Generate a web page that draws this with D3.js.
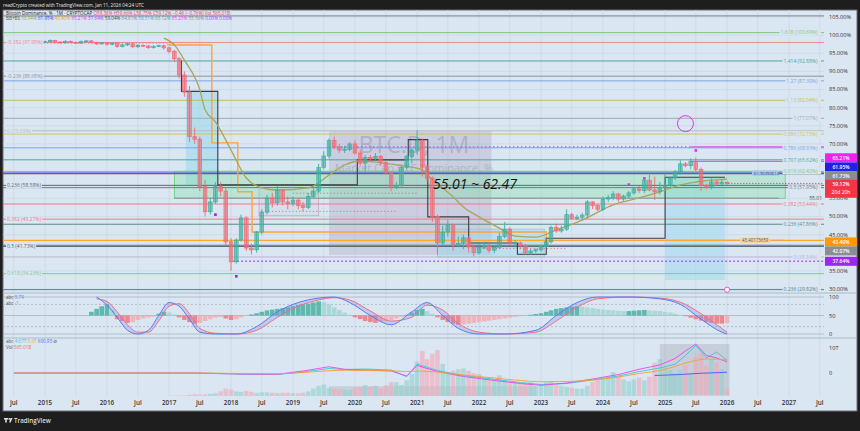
<!DOCTYPE html>
<meta charset="utf-8">
<style>
body { margin: 0; background: #1e1e1e; }
text { font-family: "Open Sans", Roboto, sans-serif; }
</style>
<body>
<script src="https://d3js.org/d3.v7.min.js"></script>
<script>

// ---- data ----
var months = d3.timeMonth.range(new Date(2014, 6, 1), new Date(2026, 1, 1));

var opens = [98.3, 98.2, 98.0, 98.4, 98.1, 98.3,
  98.0, 98.2, 98.5, 98.1, 97.9, 98.3, 98.0, 97.8, 98.2, 98.4, 98.0, 97.6,
  97.9, 97.5, 97.8, 96.9, 97.3, 97.6, 96.8, 97.2, 97.0, 96.6, 96.9, 97.1,
  96.5, 95.5, 93.5, 89.0, 84.3, 72.0, 71.3, 58.2, 51.3, 54.0, 58.2, 57.0,
  43.0, 37.5, 43.5, 49.6, 41.3, 40.8, 45.7, 51.2, 55.1, 53.8, 57.3, 54.0,
  53.5, 54.5, 53.0, 52.5, 55.5, 57.0, 63.5, 66.7, 71.0, 69.2, 68.3, 68.5,
  70.0, 67.5, 64.7, 66.3, 66.0, 66.6, 64.8, 62.0, 58.1, 58.5, 63.5, 66.5,
  68.3, 71.0, 63.6, 60.6, 50.0, 42.7, 45.7, 47.7, 42.1, 42.6, 44.1, 41.6,
  40.0, 41.5, 42.0, 40.7, 41.5, 44.5, 46.5, 42.5, 42.7, 42.0, 40.0, 40.5,
  40.8, 41.7, 43.0, 47.0, 46.0, 46.5, 50.5, 49.5, 49.8, 50.4, 54.0, 53.0,
  52.0, 54.8, 55.2, 56.2, 54.8, 55.6, 56.5, 57.6, 57.2, 60.0, 57.3, 56.8,
  58.0, 58.6, 60.6, 62.3, 64.5, 64.0, 65.2, 63.0, 58.5, 58.0, 59.5, 59.0,
  59.4];
var closes = [98.2, 98.0, 98.4, 98.1, 98.3, 98.0,
  98.2, 98.5, 98.1, 97.9, 98.3, 98.0, 97.8, 98.2, 98.4, 98.0, 97.6, 97.9,
  97.5, 97.8, 96.9, 97.3, 97.6, 96.8, 97.2, 97.0, 96.6, 96.9, 97.1, 96.5,
  95.5, 93.5, 89.0, 84.3, 72.0, 71.3, 58.2, 51.3, 54.0, 58.2, 57.0, 43.0,
  37.5, 43.5, 49.6, 41.3, 40.8, 45.7, 51.2, 55.1, 53.8, 57.3, 54.0, 53.5,
  54.5, 53.0, 52.5, 55.5, 57.0, 63.5, 66.7, 71.0, 69.2, 68.3, 68.5, 70.0,
  67.5, 64.7, 66.3, 66.0, 66.6, 64.8, 62.0, 58.1, 58.5, 63.5, 66.5, 68.3,
  71.0, 63.6, 60.6, 50.0, 42.7, 45.7, 47.7, 42.1, 42.6, 44.1, 41.6, 40.0,
  41.5, 42.0, 40.7, 41.5, 44.5, 46.5, 42.5, 42.7, 42.0, 40.0, 40.5, 40.8,
  41.7, 43.0, 47.0, 46.0, 46.5, 50.5, 49.5, 49.8, 50.4, 54.0, 53.0, 52.0,
  54.8, 55.2, 56.2, 54.8, 55.6, 56.5, 57.6, 57.2, 60.0, 57.3, 56.8, 58.0,
  58.6, 60.6, 62.3, 64.5, 64.0, 65.2, 63.0, 58.5, 58.0, 59.5, 59.0, 59.4,
  59.12];
var highs = [98.6, 98.5, 98.7, 98.6, 98.6, 98.5,
  98.5, 98.8, 98.7, 98.3, 98.6, 98.5, 98.2, 98.5, 98.7, 98.6, 98.2, 98.1,
  98.1, 98.0, 98.0, 97.6, 97.9, 97.8, 97.5, 97.4, 97.3, 97.2, 97.4, 97.3,
  96.8, 96.0, 94.0, 90.0, 86.0, 74.5, 72.0, 60.0, 55.0, 59.5, 59.5, 58.0,
  44.0, 44.0, 50.5, 50.0, 42.5, 46.0, 52.0, 56.0, 56.5, 58.5, 57.5, 55.5,
  55.5, 55.0, 54.0, 56.5, 58.5, 64.5, 68.0, 71.5, 72.0, 70.0, 69.5, 70.5,
  71.0, 68.5, 67.0, 67.0, 67.5, 67.0, 65.5, 62.5, 59.5, 64.0, 67.0, 69.0,
  73.8, 71.5, 64.0, 61.0, 50.5, 47.5, 49.0, 48.0, 44.5, 45.0, 44.5, 42.0,
  42.5, 43.0, 43.0, 42.0, 45.5, 48.5, 47.0, 43.5, 43.0, 42.5, 41.0, 41.2,
  42.2, 44.0, 47.5, 48.0, 47.5, 52.0, 51.0, 50.5, 51.0, 54.5, 54.2, 53.5,
  55.5, 56.0, 57.0, 56.5, 56.0, 57.0, 58.0, 58.5, 60.5, 61.5, 61.0, 59.5,
  61.8, 61.0, 62.8, 65.5, 65.0, 66.0, 66.2, 63.5, 59.0, 60.5, 60.0, 60.2,
  59.7];
var lows = [97.9, 97.8, 97.8, 97.8, 98.0, 97.8,
  97.8, 98.0, 97.8, 97.6, 97.7, 97.8, 97.5, 97.6, 98.0, 97.7, 97.3, 97.4,
  97.1, 97.2, 96.5, 96.6, 97.0, 96.4, 96.5, 96.7, 96.2, 96.3, 96.7, 96.0,
  95.0, 92.5, 88.0, 83.0, 70.5, 70.0, 57.0, 50.0, 50.5, 53.5, 55.5, 42.0,
  35.0, 37.0, 43.0, 40.5, 39.5, 40.0, 45.0, 50.5, 52.5, 53.0, 53.0, 52.0,
  52.8, 52.0, 51.5, 52.0, 55.0, 56.5, 63.0, 66.0, 68.5, 67.5, 67.5, 68.0,
  67.0, 64.0, 62.0, 65.0, 65.5, 64.0, 61.5, 57.0, 57.5, 58.0, 63.0, 64.5,
  67.0, 61.0, 59.5, 48.5, 39.5, 42.0, 44.5, 40.5, 41.5, 41.0, 40.0, 39.0,
  39.5, 41.0, 40.0, 39.8, 41.0, 44.0, 42.0, 41.5, 41.0, 39.5, 39.5, 40.0,
  40.2, 41.2, 42.5, 45.5, 45.5, 46.0, 49.0, 49.0, 49.0, 49.5, 52.0, 51.5,
  51.5, 54.0, 54.5, 54.0, 54.2, 55.0, 56.0, 56.5, 56.5, 57.0, 54.5, 56.0,
  57.0, 58.0, 60.0, 61.5, 63.5, 63.0, 62.5, 57.0, 57.5, 57.5, 58.5, 58.3,
  58.75];

// monthly volume (T), same months as candles
var volumes = [0, 0, 0, 0, 0, 0,
  0, 0, 0, 0, 0, 0, 0, 0, 0, 0, 0, 0,
  0, 0, 0, 0, 0, 0, 0, 0, 0, 0, 0, 0,
  0.05, 0.05, 0.1, 0.15, 0.3, 0.4, 0.3, 0.4, 0.5, 0.6, 1.0, 1.6,
  1.4, 1.0, 0.9, 1.1, 0.9, 0.7, 0.8, 0.8, 0.7, 0.6, 0.7, 0.7,
  0.6, 0.6, 0.7, 1.0, 1.6, 2.2, 2.5, 1.8, 1.6, 1.5, 1.4, 1.3,
  1.8, 2.0, 2.4, 2.0, 2.2, 1.8, 2.3, 3.0, 3.0, 2.4, 3.4, 4.8,
  7.5, 9.8, 8.0, 9.2, 10.0, 7.0, 5.0, 5.5, 5.8, 6.0, 5.5, 5.0,
  4.8, 4.0, 3.8, 3.6, 4.5, 3.5, 3.0, 3.0, 2.6, 2.7, 3.0, 2.2,
  2.4, 3.0, 3.2, 2.4, 2.2, 2.0, 1.8, 1.6, 1.6, 2.2, 3.0, 3.6,
  3.8, 4.2, 5.2, 4.4, 3.6, 3.2, 3.6, 4.0, 3.4, 4.2, 7.2, 8.0,
  6.2, 5.6, 5.0, 5.6, 6.8, 5.0, 8.5, 9.3, 6.6, 8.0, 7.2, 5.8,
  1.6];

// moving average line
var maDates = ["2016-12", "2017-02", "2017-04", "2017-07", "2017-08", "2017-10", "2018-01", "2018-04", "2018-07", "2018-10",
  "2019-04", "2019-08", "2019-11", "2020-02", "2020-05", "2020-09", "2020-12", "2021-02", "2021-04", "2021-08",
  "2021-10", "2022-01", "2022-05", "2022-08", "2022-12", "2023-04", "2023-09", "2024-03", "2024-08", "2024-12",
  "2025-04", "2025-07", "2026-01"];
var maValues = [99.2, 97.3, 93.1, 84.9, 79.4, 76.1, 68.3, 60.6, 57.9, 57.3,
  57.9, 61.4, 64.2, 65.3, 65.0, 64.2, 63.6, 62.8, 60.1, 55.4,
  52.6, 49.9, 46.8, 44.6, 44.3, 46.3, 49.0, 53.2, 55.1, 56.8,
  58.7, 59.5, 60.3];

// step lines
var blackStepDates = ["2017-03-15", "2017-03-15", "2017-10-15", "2020-01-15", "2020-11-10", "2021-03-05", "2021-11-01", "2022-08-15", "2023-02-01", "2025-01-01", "2025-12-20"];
var blackStepValues = [93.0, 84.5, 58.7, 65.6, 71.2, 49.9, 42.7, 39.6, 44.0, 60.8, 60.8];
var orangeStepDates = ["2016-12-20", "2017-09-10", "2018-02-10", "2018-05-05", "2023-02-01", "2026-12-01"];
var orangeStepValues = [97.3, 70.3, 56.8, 45.7, 43.4, 43.4];

// fib levels
var fibRightValues = [100.69, 92.88, 87.39, 82.04, 77.07, 72.73, 68.93, 65.62, 62.42, 57.95, 53.44, 47.86, 38.84, 29.82];
var fibRightLabels = ["1.618 (100.69%)", "1.414 (92.88%)", "1.27 (87.39%)", "1.13 (82.04%)", "1 (77.07%)", "0.886 (72.73%)",
  "0.786 (68.93%)", "0.707 (65.62%)", "0.618 (62.42%)", "0.5 (57.95%)", "0.382 (53.44%)", "0.236 (47.86%)", "0 (38.84%)", "0.236 (29.82%)"];
var fibLeftValues = [97.98, 88.68, 73.63, 58.58, 49.27, 41.73, 34.23];
var fibLeftLabels = ["-0.382 (97.98%)", "-0.236 (88.68%)", "0 (73.63%)", "0.236 (58.58%)", "0.382 (49.27%)", "0.5 (41.73%)", "0.618 (34.23%)"];

var priceTicks = [105, 100, 95, 90, 85, 80, 75, 70, 55, 50, 45, 35, 30];
var tagValues = [65.21, 61.95, 61.73, 59.12, 43.40, 42.07, 37.64];
var tagLabels = ["65.21%", "61.95%", "61.73%", "59.12%", "43.40%", "42.07%", "37.64%"];
var rangeLow = 55.01, rangeHigh = 62.47;

// oscillator pane
var oscDates = ["2015-11", "2016-01", "2016-03", "2016-05", "2016-07", "2016-09", "2016-11", "2017-01", "2017-03", "2017-05",
  "2017-07", "2017-10", "2018-02", "2018-06", "2018-10", "2019-02", "2019-06", "2019-09", "2019-12", "2020-04",
  "2020-08", "2020-12", "2021-03", "2021-06", "2021-09", "2022-01", "2022-06", "2022-12", "2023-04", "2023-08",
  "2023-12", "2024-06", "2024-12", "2025-04", "2025-08", "2025-12", "2026-01"];
var oscK = [100, 78, 45, 10, 0, 10, 50, 85, 75, 40, 5, 0, 0, 20, 60, 85, 97, 100, 85, 50,
  25, 60, 85, 50, 15, 0, 0, 10, 50, 85, 100, 100, 95, 80, 40, 5, 0];
var oscD = [95, 88, 60, 25, 5, 5, 35, 75, 82, 55, 15, 2, 0, 10, 45, 75, 92, 98, 92, 62,
  35, 45, 78, 65, 28, 5, 0, 5, 35, 72, 95, 100, 97, 86, 55, 15, 5];
var histStart = new Date(2015, 9, 1);
var histValues = [10, 18, 25, 30, 15,
  -10, -15, -20, -18, -12, -8, -5, -3, 5, 10, 8, 3,
  -5, -12, -18, -22, -20, -15, -10, -6, -4, -8,
  -12, -10, -5, 0, 3, 6, 10, 14, 16, 18, 20, 22,
  25, 28, 30, 32, 35, 38, 36, 30, 22, 15, 8, 2,
  -5, -10, -15, -18, -20, -18, -15, -12, -8, -4, 2, 8,
  15, 18, 12, 5, -5, -12, -18, -22, -25, -24, -22, -20,
  -18, -16, -14, -12, -10, -8, -6, -4, -2, 0, 2, 4,
  6, 10, 14, 18, 20, 22, 24, 25, 24, 22, 20, 18,
  16, 15, 14, 13, 12, 12, 13, 14, 15, 14, 13, 12,
  10, 8, 5, 2, -2, -6, -10, -14, -18, -20, -22, -22, -20];

// volume pane lines (T)
var vlDates = ["2014-07", "2017-06", "2018-03", "2018-10", "2019-03", "2019-08", "2019-11", "2020-03", "2020-08", "2020-11",
  "2021-01", "2021-05", "2021-10", "2022-04", "2022-09", "2023-01", "2023-06", "2023-11", "2024-04", "2024-08",
  "2024-12", "2025-03", "2025-05", "2025-07", "2025-09", "2025-11", "2026-01"];
var vlCyan = [0, 0, -0.5, -0.6, 0.4, 1.8, 1.4, 1.6, 1.2, -1.5,
  3.6, 1.0, -1.0, -2.5, -3.8, -4.6, -4.2, -2.8, -1.2, 0.6,
  2.0, 3.5, 7.0, 11.0, 6.0, 8.4, 5.0];
var vlMagenta = [0, 0, -0.4, -0.5, 0.8, 2.5, 1.5, 1.2, 0.8, -1.2,
  3.0, 0.6, -1.4, -3.0, -4.2, -4.9, -4.0, -2.4, -0.6, 1.5,
  3.2, 5.8, 8.8, 11.6, 7.0, 6.0, 4.5];
var vlOrange = [0, 0, -0.2, -0.3, 0.2, 0.9, 1.1, 1.0, 0.9, 0.6,
  0.8, 0.4, -0.8, -2.0, -3.0, -3.5, -3.4, -2.8, -1.6, -0.2,
  1.0, 2.6, 4.0, 5.0, 5.6, 5.5, 5.2];
var vlBlueDates = ["2024-11", "2025-04", "2025-08", "2026-01"];
var vlBlue = [-1.0, -0.6, -0.1, 0.3];

// ---- layout ----
var W = 860, H = 431;
var plotL = 3, plotR = 824, frameR = 857, frameTop = 10, frameBottom = 411;
var mainTop = 10, mainBottom = 293, oscBottom = 338, volBottom = 396;
var bg = "#dbe6f3";
var parse = d3.timeParse("%Y-%m"), parseD = d3.timeParse("%Y-%m-%d");

var x = d3.scaleTime().domain([new Date(2015, 0, 1), new Date(2027, 0, 1)]).range([45, 789]);
var y = d3.scaleLinear().domain([30, 105]).range([289, 17]);
var yOsc = d3.scaleLinear().domain([0, 100]).range([334, 297]);
var yVl = d3.scaleLinear().domain([0, 10]).range([373, 348]);
var yVb = d3.scaleLinear().domain([0, 10]).range([396, 350]);

var svg = d3.select("body").append("svg").attr("width", W).attr("height", H);
svg.append("rect").attr("width", W).attr("height", H).attr("fill", "#1e1e1e");
svg.append("rect").attr("x", plotL).attr("y", frameTop).attr("width", frameR - plotL).attr("height", frameBottom - frameTop)
    .attr("fill", bg).attr("stroke", "#6a6f78");

svg.append("text").attr("x", 3).attr("y", 6.5).attr("fill", "#e8e8e8").attr("font-size", 4.6)
    .text("readCrypto created with TradingView.com, Jan 11, 2026 04:24 UTC");

var defs = svg.append("defs");
defs.append("clipPath").attr("id", "clipMain").append("rect")
    .attr("x", plotL).attr("y", mainTop).attr("width", plotR - plotL).attr("height", mainBottom - mainTop);
defs.append("clipPath").attr("id", "clipLow").append("rect")
    .attr("x", plotL).attr("y", mainBottom).attr("width", plotR - plotL).attr("height", volBottom - mainBottom);

// grid
var timeTicks = d3.timeMonth.every(6).range(new Date(2014, 6, 1), new Date(2027, 7, 1));
svg.append("g").selectAll("line").data(timeTicks).join("line")
    .attr("x1", d => x(d)).attr("x2", d => x(d)).attr("y1", frameTop).attr("y2", volBottom)
    .attr("stroke", "#cbd8e6").attr("stroke-width", 0.8);
svg.append("g").selectAll("line").data(priceTicks).join("line")
    .attr("x1", plotL).attr("x2", plotR).attr("y1", d => y(d)).attr("y2", d => y(d))
    .attr("stroke", "#cbd8e6").attr("stroke-width", 0.8);

// pane separators
[mainBottom, oscBottom].forEach(function (v) {
  svg.append("line").attr("x1", plotL).attr("x2", frameR).attr("y1", v).attr("y2", v)
      .attr("stroke", "#aab8c8").attr("stroke-width", 1.2);
});

var main = svg.append("g").attr("clip-path", "url(#clipMain)");

// watermark
main.append("text").attr("x", 414).attr("y", 153).attr("text-anchor", "middle")
    .attr("font-size", 23).attr("fill", "#8e8ea6").attr("opacity", 0.45).text("BTC.D, 1M");
main.append("text").attr("x", 414).attr("y", 172).attr("text-anchor", "middle")
    .attr("font-size", 11).attr("fill", "#8e8ea6").attr("opacity", 0.45).text("Market Cap BTC Dominance, %");

// boxes
function box(g, d0, d1, v0, v1, fill, op, stroke) {
  g.append("rect").attr("x", x(d0)).attr("width", x(d1) - x(d0))
      .attr("y", y(v0)).attr("height", y(v1) - y(v0))
      .attr("fill", fill).attr("fill-opacity", op)
      .attr("stroke", stroke || "none").attr("stroke-width", 0.8);
}
box(main, parseD("2019-08-01"), parseD("2022-03-15"), 73.5, 39.4, "#9e8fb0", 0.28);
box(main, parseD("2017-04-10"), parseD("2017-10-15"), 84.5, 58.7, "#9fd8ec", 0.6);
box(main, parseD("2021-05-01"), parseD("2023-01-20"), 46.5, 38.8, "#9fd8ec", 0.5, "#8ecbe0");
box(main, parseD("2025-01-01"), parseD("2025-12-20"), 60.8, 32.5, "#9fd8ec", 0.55);
box(main, parseD("2018-06-15"), parseD("2019-06-01"), 58.7, 50.2, "#c9b3d6", 0.15, "#c8a4c8");
box(main, parseD("2017-02-01"), parseD("2026-12-10"), rangeHigh, rangeLow, "#7fe0a0", 0.35, "#55dd66");

// horizontal levels
var fibRightColors = ["#7cc97a", "#4aa69c", "#7aa3e6", "#c4bf5a", "#a7a7a7", "#cfc35a",
  "#7aa3e6", "#4aa69c", "#7cc97a", "#777a80", "#ef7b84", "#5a8a8a", "#b9bcc2", "#5a7f86"];
var fibLeftColors = ["#ef8a90", "#8d949c", "#b9bcc2", "#5f6670", "#ef7b84", "#5f6670", "#86c986"];

main.append("g").selectAll("line").data(fibRightValues.concat(fibLeftValues)).join("line")
    .attr("x1", plotL).attr("x2", plotR).attr("y1", d => y(d)).attr("y2", d => y(d))
    .attr("stroke", (d, i) => i < fibRightValues.length ? fibRightColors[i] : fibLeftColors[i - fibRightValues.length])
    .attr("stroke-width", 1);

function hline(v, color, w, dash, x0, x1) {
  main.append("line").attr("x1", x0 == null ? plotL : x(x0)).attr("x2", x1 == null ? plotR : x(x1))
      .attr("y1", y(v)).attr("y2", y(v)).attr("stroke", color).attr("stroke-width", w)
      .attr("stroke-dasharray", dash || null);
}
hline(105.3, "#7b8088", 1);
hline(tagValues[5], "#6d7178", 1.2);
hline(tagValues[4], "#ffa726", 1.2);
hline(tagValues[2], "#8d9198", 1);
hline(tagValues[1], "#3a3ae8", 1.4);
hline(tagValues[0], "#e040e8", 1, null, parseD("2025-06-01"), null);
hline(69.2, "#e040e8", 1, null, parseD("2025-06-01"), null);
hline(69.2, "#e040e8", 1.4, "1.4,2.6", parseD("2019-08-01"), parseD("2025-06-01"));
hline(tagValues[6], "#a23cf0", 1.4, "1.4,2.6", parseD("2018-01-15"), null);
hline(rangeLow, "#9aa0a6", 1.6, null, parseD("2017-02-01"), parseD("2026-11-01"));
hline(tagValues[3], "#f23645", 0.8, "1.5,1.5", parseD("2025-12-20"), null);
hline(97.8, "#ef6f78", 1, "1.2,2.2", null, parseD("2017-02-01"));
hline(51.4, "#ef6f78", 1, "1.2,2.2", parseD("2018-07-01"), parseD("2020-09-01"));
hline(41.2, "#ef6f78", 1, "1.2,2.2", parseD("2022-01-01"), parseD("2023-06-01"));
hline(56.4, "#8d9198", 1, "1.2,2.2", parseD("2019-01-01"), parseD("2021-01-01"));

// step lines and average
var stepLine = d3.line().x(d => x(d[0])).y(d => y(d[1])).curve(d3.curveStepAfter);
main.append("path")
    .datum(orangeStepDates.map((d, i) => [parseD(d), orangeStepValues[i]]))
    .attr("d", stepLine).attr("fill", "none").attr("stroke", "#ffa33a").attr("stroke-width", 1.4);
main.append("path")
    .datum(blackStepDates.map((d, i) => [parseD(d), blackStepValues[i]]))
    .attr("d", stepLine).attr("fill", "none").attr("stroke", "#3a3d44").attr("stroke-width", 1.1);
main.append("path")
    .datum(maDates.map((d, i) => [parse(d), maValues[i]]))
    .attr("d", d3.line().x(d => x(d[0])).y(d => y(d[1])).curve(d3.curveMonotoneX))
    .attr("fill", "none").attr("stroke", "#a9a55a").attr("stroke-width", 1.3);

// candles
var up = "#3fae9f", down = "#ee6a74";
var candles = main.append("g").selectAll("g").data(months).join("g");
candles.append("line")
    .attr("x1", d => x(d)).attr("x2", d => x(d))
    .attr("y1", (d, i) => y(highs[i])).attr("y2", (d, i) => y(lows[i]))
    .attr("stroke", (d, i) => closes[i] >= opens[i] ? up : down).attr("stroke-width", 0.9);
candles.append("rect")
    .attr("x", d => x(d) - 1.8).attr("width", 3.6)
    .attr("y", (d, i) => y(Math.max(opens[i], closes[i])))
    .attr("height", (d, i) => Math.max(0.8, Math.abs(y(opens[i]) - y(closes[i]))))
    .attr("fill", (d, i) => closes[i] >= opens[i] ? up : down).attr("fill-opacity", 0.55)
    .attr("stroke", (d, i) => closes[i] >= opens[i] ? up : down).attr("stroke-width", 0.7);

// markers
main.append("rect").attr("x", x(parseD("2017-10-01")) - 1.3).attr("y", y(50.5) - 1.3).attr("width", 2.6).attr("height", 2.6).attr("fill", "#9a22e6");
main.append("rect").attr("x", x(parseD("2018-02-01")) - 1.3).attr("y", y(33.5) - 1.3).attr("width", 2.6).attr("height", 2.6).attr("fill", "#9a22e6");
[["2024-09-01", 60.5], ["2024-06-01", 58.8], ["2025-07-01", 68.2]].forEach(function (p) {
  main.append("rect").attr("x", x(parseD(p[0])) - 1.3).attr("y", y(p[1]) - 1.3).attr("width", 2.6).attr("height", 2.6).attr("fill", "#e62ee6");
});
main.append("circle").attr("cx", x(parseD("2025-05-01"))).attr("cy", y(75.6)).attr("r", 8)
    .attr("fill", "none").attr("stroke", "#e62ee6").attr("stroke-width", 1);
main.append("circle").attr("cx", x(parseD("2026-01-01"))).attr("cy", y(29.8)).attr("r", 2.6)
    .attr("fill", "#fff").attr("stroke", "#e62ee6").attr("stroke-width", 0.8);

// range text
main.append("text").attr("x", 433).attr("y", 189).attr("font-size", 14).attr("font-style", "italic")
    .attr("fill", "#111").text(rangeLow.toFixed(2) + " ~ " + rangeHigh.toFixed(2));
main.append("text").attr("x", 822).attr("y", y(rangeLow) + 1.8).attr("text-anchor", "end")
    .attr("font-size", 5).attr("fill", "#555").text(rangeLow.toFixed(2));

// level labels
function labelWithBg(g, tx, ty, str, color, anchor) {
  var t = g.append("text").attr("x", tx).attr("y", ty + 1.8).attr("font-size", 5)
      .attr("fill", color).attr("text-anchor", anchor).text(str);
  var w = t.node().getComputedTextLength();
  g.insert("rect", function () { return t.node(); })
      .attr("x", anchor === "end" ? tx - w - 1 : tx - 1).attr("y", ty - 2.6).attr("width", w + 2).attr("height", 5.2)
      .attr("fill", bg);
}
var lbl = main.append("g");
fibRightValues.forEach((v, i) => labelWithBg(lbl, 820, y(v), fibRightLabels[i] + " ·", fibRightColors[i], "end"));
fibLeftValues.forEach((v, i) => labelWithBg(lbl, 7, y(v), fibLeftLabels[i], fibLeftColors[i], "start"));

// small drawing labels
main.append("rect").attr("x", 752).attr("y", y(61.95) - 2.6).attr("width", 27).attr("height", 5.2).attr("rx", 1.5).attr("fill", "#a9c4f0");
main.append("text").attr("x", 754).attr("y", y(61.95) + 1.6).attr("font-size", 4.2).attr("fill", "#345").text("61.95390614");
main.append("rect").attr("x", 740).attr("y", y(43.4) - 2.8).attr("width", 30).attr("height", 5.6).attr("rx", 1.5).attr("fill", "#f3d4a4");
main.append("text").attr("x", 742).attr("y", y(43.4) + 1.8).attr("font-size", 4.4).attr("fill", "#654").text("43.40173659");

// legend
svg.append("text").attr("x", 6).attr("y", 14.5).attr("font-size", 4.6).attr("fill", "#222")
    .text("Bitcoin Dominance, % · 1M · CRYPTOCAP")
  .append("tspan").attr("fill", "#e0424f").text("  O59.38%  H59.66%  L58.75%  C59.12%  −0.46 (−0.76%)  Vol 565.01B");
var leg2 = svg.append("text").attr("x", 6).attr("y", 20).attr("font-size", 4.6).attr("fill", "#555").text("BB+BS ");
var leg2Vals = ["58.94%", "61.95%", "43.40%", "65.21%", "37.64%", "59.04%", "64.81%", "58.51%", "63.12%", "65.23%", "55.56%", "0.00%", "0.00%"];
var leg2Cols = ["#9aa83a", "#3a3ae8", "#f39a22", "#e040e8", "#a23cf0", "#444", "#888", "#4aa0c8", "#4aa69c", "#e040e8", "#888", "#a23cf0", "#a23cf0"];
leg2Vals.forEach((v, i) => leg2.append("tspan").attr("fill", leg2Cols[i]).text(" " + v));

// price axis
svg.append("g").selectAll("text").data(priceTicks).join("text")
    .attr("x", 829).attr("y", d => y(d) + 1.9).attr("font-size", 5.6).attr("fill", "#333")
    .text(d => d.toFixed(2) + "%");

// price tags; shifts keep them apart like the scale does
var tagColors = ["#ee22ee", "#2020e8", "#8a8d92", "#f23645", "#ff9800", "#8a8d92", "#9c27f0"];
var tagShift = [-3.5, -6.2, 2, 5.4, 1.5, 5.7, 0];
var tg = svg.append("g");
tagValues.forEach(function (v, i) {
  var cy = y(v) + tagShift[i], two = i === 3, h = two ? 18 : 9;
  tg.append("rect").attr("x", 825).attr("y", cy - h / 2).attr("width", 32).attr("height", h).attr("fill", tagColors[i]);
  var ty = two ? cy - 2.6 : cy + 1.8;
  tg.append("text").attr("x", 841).attr("y", ty).attr("text-anchor", "middle").attr("font-size", 5)
      .attr("font-weight", 600).attr("fill", "#fff").text(tagLabels[i]);
  if (two) tg.append("text").attr("x", 841).attr("y", ty + 7.4).attr("text-anchor", "middle")
      .attr("font-size", 5).attr("fill", "#fff").text("20d 20h");
});

// ---- oscillator pane ----
var low = svg.append("g").attr("clip-path", "url(#clipLow)");
[[100, null], [80, "2,2"], [50, null], [20, "2,2"], [0, null]].forEach(function (l) {
  low.append("line").attr("x1", plotL).attr("x2", plotR).attr("y1", yOsc(l[0])).attr("y2", yOsc(l[0]))
      .attr("stroke", "#a9b4c0").attr("stroke-width", 0.8).attr("stroke-dasharray", l[1]);
});
var histMonths = d3.timeMonth.range(histStart, new Date(2026, 1, 1));
low.append("g").selectAll("rect").data(histMonths).join("rect")
    .attr("x", d => x(d) - 2.3).attr("width", 4.6)
    .attr("y", (d, i) => yOsc(50 + Math.max(0, histValues[i])))
    .attr("height", (d, i) => Math.abs(yOsc(50) - yOsc(50 + histValues[i])))
    .attr("fill", (d, i) => histValues[i] >= 0 ? (i > 0 && histValues[i] < histValues[i - 1] ? "#9ed6cf" : "#3fae9f") : (i > 0 && histValues[i] > histValues[i - 1] ? "#f4a8ae" : "#ef6f78"))
    .attr("fill-opacity", 0.8);
var oscPts = oscDates.map((d, i) => ({ t: parse(d), k: oscK[i], d: oscD[i] }));
low.append("path").datum(oscPts)
    .attr("d", d3.area().x(p => x(p.t)).y0(p => yOsc(p.d)).y1(p => yOsc(p.k)).curve(d3.curveMonotoneX))
    .attr("fill", "#7d8cf0").attr("fill-opacity", 0.3);
low.append("path").datum(oscPts)
    .attr("d", d3.line().x(p => x(p.t)).y(p => yOsc(p.d)).curve(d3.curveMonotoneX))
    .attr("fill", "none").attr("stroke", "#f07080").attr("stroke-width", 1);
low.append("path").datum(oscPts)
    .attr("d", d3.line().x(p => x(p.t)).y(p => yOsc(p.k)).curve(d3.curveMonotoneX))
    .attr("fill", "none").attr("stroke", "#5b7cf0").attr("stroke-width", 1);
svg.append("text").attr("x", 6).attr("y", 299).attr("font-size", 4.6).attr("fill", "#555").text("abc ")
  .append("tspan").attr("fill", "#5b7cf0").text("5.79");
svg.append("text").attr("x", 6).attr("y", 305).attr("font-size", 4.6).attr("fill", "#555").text("abc ")
  .append("tspan").attr("fill", "#ef6f78").text("-1");
svg.append("g").selectAll("text").data([100, 50, 0]).join("text")
    .attr("x", 829).attr("y", d => yOsc(d) + 2).attr("font-size", 5.6).attr("fill", "#333").text(d => d);

// ---- volume pane ----
box(low, parseD("2019-08-01"), parseD("2022-12-01"), 3.2, -2.0, "#a0a0a8", 0.3);
low.append("rect").attr("x", x(parseD("2024-12-01"))).attr("width", x(parseD("2026-01-15")) - x(parseD("2024-12-01")))
    .attr("y", 344).attr("height", 51).attr("fill", "#a0a0a8").attr("fill-opacity", 0.35);
low.append("g").selectAll("rect").data(months).join("rect")
    .attr("x", d => x(d) - 2.3).attr("width", 4.6)
    .attr("y", (d, i) => yVb(volumes[i])).attr("height", (d, i) => yVb(0) - yVb(volumes[i]))
    .attr("fill", (d, i) => closes[i] >= opens[i] ? "#8fd0cc" : "#f2a9b6").attr("fill-opacity", 0.6);
var vLine = d3.line().x(d => x(d[0])).y(d => yVl(d[1]));
[[vlCyan, "#3cc6d8"], [vlMagenta, "#ee44ee"], [vlOrange, "#f5a030"]].forEach(function (s) {
  low.append("path").datum(vlDates.map((d, i) => [parse(d), s[0][i]]))
      .attr("d", s[1] === "#f5a030" ? vLine.curve(d3.curveMonotoneX) : vLine.curve(d3.curveLinear))
      .attr("fill", "none").attr("stroke", s[1]).attr("stroke-width", 0.9);
});
low.append("path").datum(vlBlueDates.map((d, i) => [parse(d), vlBlue[i]]))
    .attr("d", vLine.curve(d3.curveLinear)).attr("fill", "none").attr("stroke", "#4a6af0").attr("stroke-width", 1.2);
var vl = svg.append("text").attr("x", 6).attr("y", 343).attr("font-size", 4.6).attr("fill", "#555").text("abc ");
vl.append("tspan").attr("fill", "#3cc6d8").text("4.67T ");
vl.append("tspan").attr("fill", "#f5a030").text("5.6T ");
vl.append("tspan").attr("fill", "#4a6af0").text("600.93 ");
vl.append("tspan").attr("fill", "#555").text("⊘");
svg.append("text").attr("x", 6).attr("y", 349).attr("font-size", 4.6).attr("fill", "#555").text("Vol ")
  .append("tspan").attr("fill", "#ef6f78").text("565.01B");
svg.append("text").attr("x", 829).attr("y", yVl(10) + 2).attr("font-size", 5.6).attr("fill", "#333").text("10T");
svg.append("text").attr("x", 829).attr("y", yVl(0) + 2).attr("font-size", 5.6).attr("fill", "#333").text("0");

// ---- time axis ----
svg.append("g").selectAll("text").data(timeTicks).join("text")
    .attr("x", d => x(d)).attr("y", 405).attr("text-anchor", "middle").attr("font-size", 6.3)
    .attr("font-weight", 600).attr("fill", "#333")
    .text(d => d.getMonth() === 0 ? d.getFullYear() : "Jul");

// footer logo
var logo = svg.append("g").attr("transform", "translate(4,418)");
logo.append("rect").attr("x", 0).attr("y", 0).attr("width", 4).attr("height", 1.6).attr("fill", "#ddd");
logo.append("rect").attr("x", 1.2).attr("y", 0).attr("width", 1.6).attr("height", 4.5).attr("fill", "#ddd");
logo.append("circle").attr("cx", 5.3).attr("cy", 0.9).attr("r", 0.9).attr("fill", "#ddd");
logo.append("path").attr("d", "M6.4,0 L8.6,0 L6.6,4.5 L5.2,4.5 Z").attr("fill", "#ddd");
svg.append("text").attr("x", 14).attr("y", 422.5).attr("font-size", 6.2).attr("font-weight", 600)
    .attr("fill", "#ddd").text("TradingView");

</script>
</body>
